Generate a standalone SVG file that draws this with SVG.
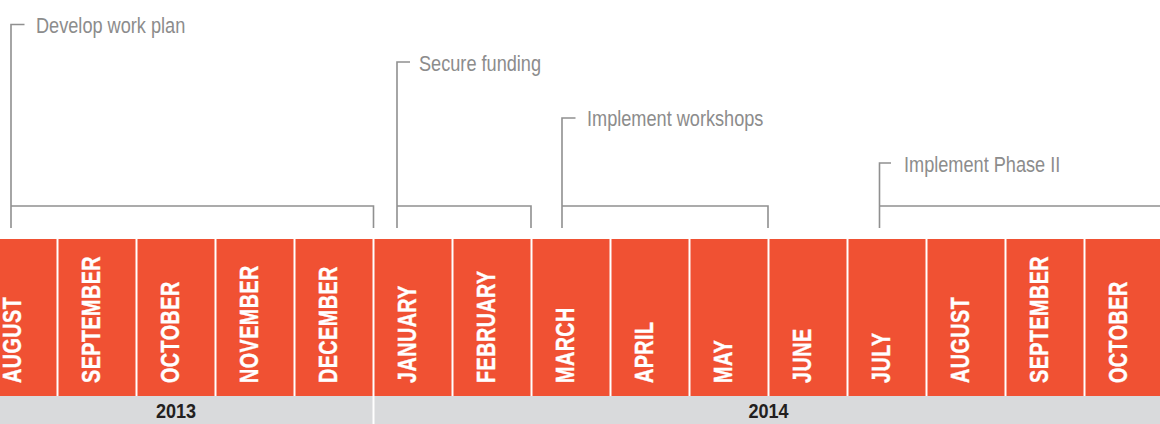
<svg xmlns="http://www.w3.org/2000/svg" width="1160" height="424" viewBox="0 0 1160 424">
<style>
.band{fill:#f05133}
.yearbar{fill:#d9dadc}
.div{stroke:#ffffff;stroke-width:2}
.br{fill:none;stroke:#909090;stroke-width:1.6}
.ms{font-family:"Liberation Sans",Arial,sans-serif;font-size:22px;fill:#8c8c8c}
.mo{font-family:"Liberation Sans",Arial,sans-serif;font-size:25px;font-weight:bold;fill:#ffffff;stroke:#ffffff;stroke-width:0.4;letter-spacing:0.6px}
.yr{font-family:"Liberation Sans",Arial,sans-serif;font-size:21px;font-weight:bold;fill:#231f20}
</style>
<rect width="1160" height="424" fill="#ffffff"/>
<rect class="band" x="0" y="239" width="1160" height="157"/>
<rect class="yearbar" x="0" y="396" width="1160" height="28"/>
<g id="dividers">
<line class="div" x1="57.5" y1="239" x2="57.5" y2="396"/>
<line class="div" x1="136.5" y1="239" x2="136.5" y2="396"/>
<line class="div" x1="215.5" y1="239" x2="215.5" y2="396"/>
<line class="div" x1="294.5" y1="239" x2="294.5" y2="396"/>
<line class="div" x1="373.5" y1="239" x2="373.5" y2="424"/>
<line class="div" x1="452.5" y1="239" x2="452.5" y2="396"/>
<line class="div" x1="531.5" y1="239" x2="531.5" y2="396"/>
<line class="div" x1="610.5" y1="239" x2="610.5" y2="396"/>
<line class="div" x1="689.5" y1="239" x2="689.5" y2="396"/>
<line class="div" x1="768.5" y1="239" x2="768.5" y2="396"/>
<line class="div" x1="847.5" y1="239" x2="847.5" y2="396"/>
<line class="div" x1="926.5" y1="239" x2="926.5" y2="396"/>
<line class="div" x1="1005.5" y1="239" x2="1005.5" y2="396"/>
<line class="div" x1="1084.5" y1="239" x2="1084.5" y2="396"/>
</g>
<g id="month-aug-2013"><text class="mo" transform="translate(21,383) rotate(-90) scale(0.79,1)">AUGUST</text></g>
<g id="month-sep-2013"><text class="mo" transform="translate(100,383) rotate(-90) scale(0.79,1)">SEPTEMBER</text></g>
<g id="month-oct-2013"><text class="mo" transform="translate(179,383) rotate(-90) scale(0.79,1)">OCTOBER</text></g>
<g id="month-nov-2013"><text class="mo" transform="translate(258,383) rotate(-90) scale(0.79,1)">NOVEMBER</text></g>
<g id="month-dec-2013"><text class="mo" transform="translate(337,383) rotate(-90) scale(0.79,1)">DECEMBER</text></g>
<g id="month-jan-2014"><text class="mo" transform="translate(416,383) rotate(-90) scale(0.79,1)">JANUARY</text></g>
<g id="month-feb-2014"><text class="mo" transform="translate(495,383) rotate(-90) scale(0.79,1)">FEBRUARY</text></g>
<g id="month-mar-2014"><text class="mo" transform="translate(574,383) rotate(-90) scale(0.79,1)">MARCH</text></g>
<g id="month-apr-2014"><text class="mo" transform="translate(653,383) rotate(-90) scale(0.79,1)">APRIL</text></g>
<g id="month-may-2014"><text class="mo" transform="translate(732,383) rotate(-90) scale(0.79,1)">MAY</text></g>
<g id="month-jun-2014"><text class="mo" transform="translate(811,383) rotate(-90) scale(0.79,1)">JUNE</text></g>
<g id="month-jul-2014"><text class="mo" transform="translate(890,383) rotate(-90) scale(0.79,1)">JULY</text></g>
<g id="month-aug-2014"><text class="mo" transform="translate(969,383) rotate(-90) scale(0.79,1)">AUGUST</text></g>
<g id="month-sep-2014"><text class="mo" transform="translate(1048,383) rotate(-90) scale(0.79,1)">SEPTEMBER</text></g>
<g id="month-oct-2014"><text class="mo" transform="translate(1127,383) rotate(-90) scale(0.79,1)">OCTOBER</text></g>
<g id="year-2013"><text class="yr" text-anchor="middle" transform="translate(176,418) scale(0.86,1)">2013</text></g>
<g id="year-2014"><text class="yr" text-anchor="middle" transform="translate(768.5,418) scale(0.86,1)">2014</text></g>
<g id="connectors">
<path class="br" d="M24.5,24.5 H11 V228 M11,206 H373.5 V228"/>
<path class="br" d="M410,62 H397 V228 M397,206 H531 V228"/>
<path class="br" d="M575.5,118 H562 V228 M562,206 H768 V228"/>
<path class="br" d="M891,163 H879.5 V228 M879.5,206 H1160"/>
</g>
<g id="ms-develop"><text class="ms" transform="translate(36,33) scale(0.825,1)">Develop work plan</text></g>
<g id="ms-funding"><text class="ms" transform="translate(419,71) scale(0.825,1)">Secure funding</text></g>
<g id="ms-workshops"><text class="ms" transform="translate(587,126) scale(0.825,1)">Implement workshops</text></g>
<g id="ms-phase2"><text class="ms" transform="translate(904,172) scale(0.825,1)">Implement Phase II</text></g>
</svg>
